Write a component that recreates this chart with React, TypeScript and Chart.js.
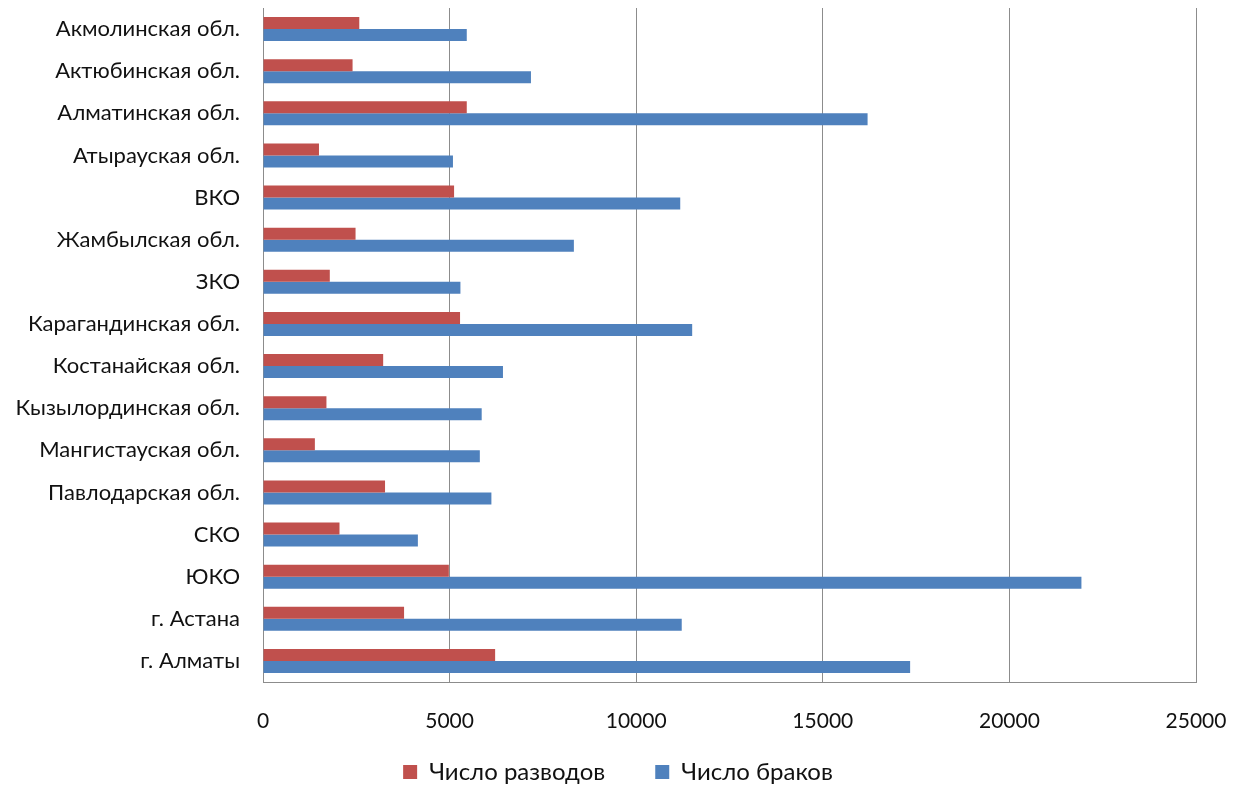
import React, { useEffect, useRef } from "react";
import { Chart, registerables } from "chart.js";

Chart.register(...registerables);

const categories = [
  "Акмолинская обл.",
  "Актюбинская обл.",
  "Алматинская обл.",
  "Атырауская обл.",
  "ВКО",
  "Жамбылская обл.",
  "ЗКО",
  "Карагандинская обл.",
  "Костанайская обл.",
  "Кызылординская обл.",
  "Мангистауская обл.",
  "Павлодарская обл.",
  "СКО",
  "ЮКО",
  "г. Астана",
  "г. Алматы",
];

const divorces = [2580, 2400, 5460, 1500, 5120, 2480, 1790, 5280, 3220, 1700, 1390, 3270, 2050, 4980, 3780, 6220];
const marriages = [5460, 7180, 16200, 5090, 11180, 8330, 5290, 11500, 6430, 5860, 5810, 6120, 4150, 21930, 11220, 17340];

const seriesNames = ["Число разводов", "Число браков"];
const xTicks = [0, 5000, 10000, 15000, 20000, 25000];

const FONT = "Lato, 'Open Sans', sans-serif";
const LEGEND_BOX_H = 40;
const LEGEND_TOP = 710;
const LEGEND_SHIFT = 20;

const legendPlacer = {
  id: "legendPlacer",
  beforeLayout(chart: any) {
    const lg = chart.legend;
    if (lg && !lg.__patched) {
      const orig = lg.fit.bind(lg);
      lg.fit = function () {
        orig();
        this.height = LEGEND_BOX_H;
      };
      lg.__patched = true;
    }
  },
  afterLayout(chart: any) {
    const lg = chart.legend;
    if (lg) {
      lg.top = LEGEND_TOP;
      lg.bottom = chart.height;
      lg.height = chart.height - LEGEND_TOP;
      lg.left += LEGEND_SHIFT;
      lg.right += LEGEND_SHIFT;
    }
  },
};

export default function App() {
  const ref = useRef<HTMLCanvasElement | null>(null);

  useEffect(() => {
    if (!ref.current) return;
    const chart = new Chart(ref.current, {
      type: "bar",
      data: {
        labels: categories,
        datasets: [
          {
            label: seriesNames[0],
            data: divorces,
            backgroundColor: "#C0504D",
            borderWidth: 0,
            categoryPercentage: 0.57,
            barPercentage: 1,
          },
          {
            label: seriesNames[1],
            data: marriages,
            backgroundColor: "#4F81BD",
            borderWidth: 0,
            categoryPercentage: 0.57,
            barPercentage: 1,
          },
        ],
      },
      plugins: [legendPlacer],
      options: {
        indexAxis: "y",
        animation: false,
        responsive: false,
        layout: { padding: { top: 8, right: 40, left: 0, bottom: 0 } },
        scales: {
          x: {
            min: 0,
            max: 25000,
            afterBuildTicks: (scale: any) => {
              scale.ticks = xTicks.map((v) => ({ value: v }));
            },
            afterFit: (scale: any) => {
              scale.height = 785 - LEGEND_BOX_H - 682;
              scale.paddingLeft = 0;
              scale.paddingRight = 0;
            },
            grid: { color: "#8c8c8c", lineWidth: 1, drawTicks: false },
            border: { display: true, color: "#8c8c8c" },
            ticks: {
              padding: 27,
              color: "#111",
              font: { family: FONT, size: 21 },
              maxRotation: 0,
              callback: (v: any) => String(v),
            },
          },
          y: {
            afterFit: (scale: any) => {
              scale.width = 263;
              scale.paddingTop = 0;
              scale.paddingBottom = 0;
            },
            grid: { display: false, drawTicks: false },
            border: { display: true, color: "#8c8c8c" },
            ticks: {
              padding: 23,
              color: "#111",
              font: { family: FONT, size: 22 },
              autoSkip: false,
            },
          },
        },
        plugins: {
          legend: {
            position: "bottom",
            labels: {
              boxWidth: 14,
              boxHeight: 14,
              padding: 50,
              color: "#111",
              font: { family: FONT, size: 24 },
            },
          },
          tooltip: { enabled: false },
        },
      },
    });
    return () => chart.destroy();
  }, []);

  return (
    <div style={{ position: "fixed", left: 0, top: 0, width: 1236, height: 785, background: "#fff" }}>
      <canvas ref={ref} width={1236} height={785} style={{ width: 1236, height: 785 }} />
    </div>
  );
}
